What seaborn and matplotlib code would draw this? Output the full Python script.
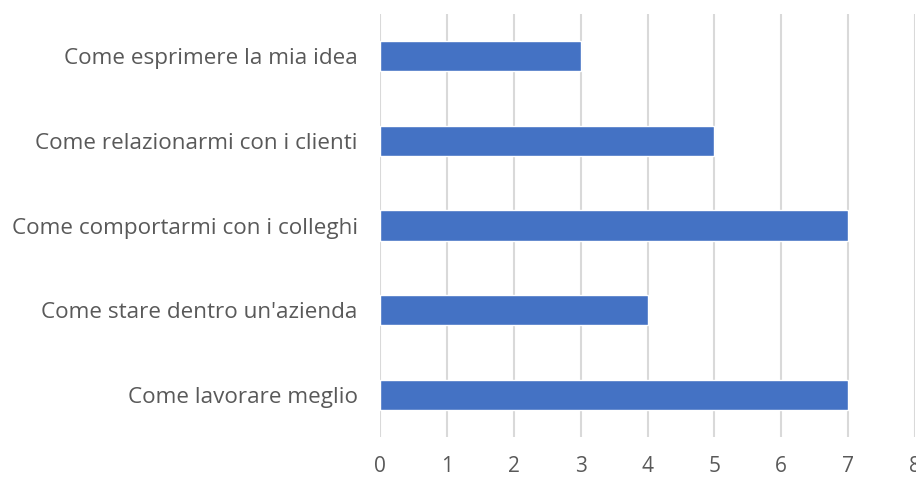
import matplotlib
matplotlib.use("Agg")
import matplotlib.pyplot as plt
import seaborn as sns
import pandas as pd

categories = [
    "Come esprimere la mia idea",
    "Come relazionarmi con i clienti",
    "Come comportarmi con i colleghi",
    "Come stare dentro un'azienda",
    "Come lavorare meglio",
]
values = [3, 5, 7, 4, 7]
x_ticks = [0, 1, 2, 3, 4, 5, 6, 7, 8]

df = pd.DataFrame({"cat": categories, "val": values})

sns.set_theme(style="white")
plt.rcParams['font.family'] = ['Open Sans', 'DejaVu Sans']

fig = plt.figure(figsize=(9.16, 4.78), dpi=100)
ax = fig.add_axes([380/916, 41/478, 535/916, 423/478])
sns.barplot(data=df, x="val", y="cat", orient="h", color="#4472C4",
            saturation=1, width=0.355, ax=ax, zorder=3)
ax.set_xlim(0, 8)
ax.set_ylim(4.5, -0.5)
ax.set_xticks(x_ticks)
ax.set_xticklabels([str(t) for t in x_ticks])
ax.grid(axis="x", color="#D9D9D9", linewidth=1.5, zorder=0)
ax.grid(axis="y", visible=False)
for s in ax.spines.values():
    s.set_visible(False)
ax.set_xlabel("")
ax.set_ylabel("")
ax.tick_params(axis="both", length=0, labelcolor="#595959")
ax.tick_params(axis="y", pad=16, labelsize=16.2)
ax.tick_params(axis="x", pad=14, labelsize=15)
for lbl in ax.get_xticklabels():
    lbl.set_clip_on(False)

fig.savefig("out.png", dpi=100)
